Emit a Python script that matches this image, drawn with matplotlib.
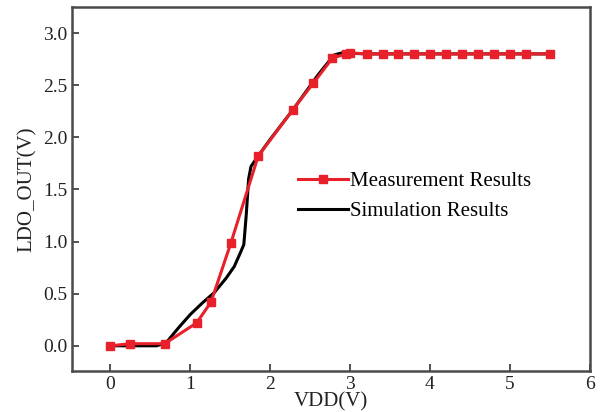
import numpy as np
import matplotlib.pyplot as plt

# measured points (VDD, LDO_OUT)
meas_vdd = [0.0, 0.25, 0.68, 1.08, 1.26, 1.51, 1.85, 2.28, 2.54, 2.78, 2.95, 3.0,
            3.21, 3.41, 3.6, 3.8, 4.0, 4.2, 4.4, 4.6, 4.8, 5.0, 5.2, 5.5]
meas_out = [0.0, 0.02, 0.02, 0.22, 0.42, 0.99, 1.82, 2.26, 2.52, 2.76, 2.80, 2.81,
            2.80, 2.80, 2.80, 2.80, 2.80, 2.80, 2.80, 2.80, 2.80, 2.80, 2.80, 2.80]

# simulation curve
sim_vdd = [0.0, 0.3, 0.58, 0.7, 0.85, 1.0, 1.15, 1.3, 1.45, 1.55, 1.62, 1.67,
           1.7, 1.73, 1.76, 1.83, 2.0, 2.3, 2.6, 2.8, 2.9, 3.2, 4.0, 5.0, 5.5]
sim_out = [0.0, 0.0, 0.0, 0.03, 0.17, 0.3, 0.41, 0.51, 0.65, 0.76, 0.88, 0.97,
           1.25, 1.6, 1.72, 1.8, 1.98, 2.28, 2.6, 2.79, 2.81, 2.80, 2.80, 2.80, 2.80]

plt.rcParams['font.family'] = ['Liberation Serif', 'DejaVu Serif']

fig = plt.figure(figsize=(6, 4.12), dpi=100)
ax = fig.add_axes([0.12, 0.10, 0.863, 0.883])

ax.plot(sim_vdd, sim_out, color='black', lw=2.2, label='Simulation Results', zorder=2)
ax.plot(meas_vdd, meas_out, color='#e8202a', lw=2.2, marker='s', ms=5.5,
        label='Measurement Results', zorder=3)

ax.set_xlim(-0.48, 6.0)
ax.set_ylim(-0.24, 3.25)
ax.set_xticks(np.arange(0, 7, 1))
ax.set_yticks(np.arange(0, 3.01, 0.5))
ax.set_yticklabels(['%.1f' % v for v in np.arange(0, 3.01, 0.5)])
ax.tick_params(direction='in', length=5, width=1.3, labelsize=14, colors='#444444')
ax.tick_params(labelcolor='#222222')
for s in ax.spines.values():
    s.set_linewidth(1.8)
    s.set_color('#4a4a4a')

ax.set_xlabel('VDD(V)', fontsize=15, labelpad=0, color='#222222')
ax.set_ylabel('LDO_OUT(V)', fontsize=15, labelpad=4, color='#222222')

h, l = ax.get_legend_handles_labels()
ax.legend(h[::-1], l[::-1], loc='upper left', bbox_to_anchor=(0.4, 0.6), frameon=False,
          fontsize=15, handlelength=2.4, handletextpad=0.1, labelspacing=0.5)

fig.savefig('out.png', dpi=100)
